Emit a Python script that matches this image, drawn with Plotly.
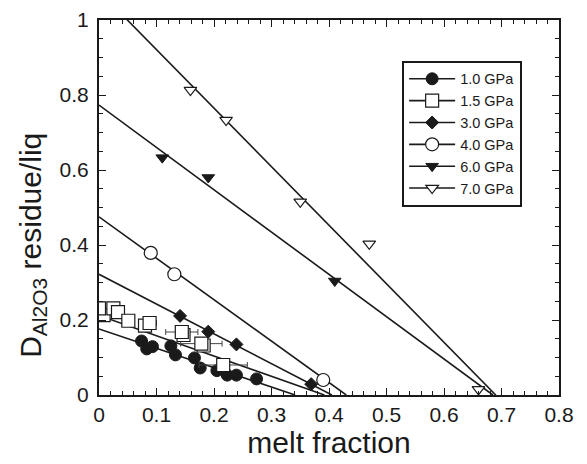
import plotly.graph_objects as go

# ---------------- data ----------------
labels = ["1.0 GPa", "1.5 GPa", "3.0 GPa", "4.0 GPa", "6.0 GPa", "7.0 GPa"]

x_10 = [0.074, 0.083, 0.093, 0.125, 0.133, 0.166, 0.176, 0.205, 0.223, 0.239, 0.274]
y_10 = [0.144, 0.123, 0.129, 0.131, 0.107, 0.099, 0.072, 0.065, 0.053, 0.053, 0.043]

x_15 = [0.008, 0.000, 0.025, 0.033, 0.051, 0.080, 0.088, 0.147, 0.144, 0.182, 0.178, 0.216]
y_15 = [0.213, 0.231, 0.231, 0.221, 0.198, 0.185, 0.192, 0.160, 0.168, 0.132, 0.137, 0.080]
xerr_15 = [0, 0, 0, 0, 0, 0, 0.012, 0, 0.028, 0, 0.036, 0.042]

x_30 = [0.141, 0.190, 0.239, 0.369]
y_30 = [0.211, 0.169, 0.135, 0.029]

x_40 = [0.090, 0.131, 0.390]
y_40 = [0.379, 0.322, 0.040]

x_60 = [0.110, 0.190, 0.410]
y_60 = [0.633, 0.580, 0.304]

x_70 = [0.159, 0.221, 0.350, 0.470, 0.660]
y_70 = [0.813, 0.733, 0.515, 0.403, 0.015]

# fitted lines: value at zero melt fraction and melt fraction where D reaches 0
fit_intercept = [0.176, 0.212, 0.322, 0.475, 0.773, 1.077]
fit_zero_x = [0.341, 0.392, 0.405, 0.430, 0.685, 0.690]

x_ticks = [0, 0.1, 0.2, 0.3, 0.4, 0.5, 0.6, 0.7, 0.8]
x_ticktext = ["0", "0.1", "0.2", "0.3", "0.4", "0.5", "0.6", "0.7", "0.8"]
y_ticks = [0, 0.2, 0.4, 0.6, 0.8, 1.0]
y_ticktext = ["0", "0.2", "0.4", "0.6", "0.8", "1"]

x_title = "melt fraction"
y_title = "D<sub>Al2O3</sub> residue/liq"

# ---------------- styles ----------------
INK = "#1a1a1a"
FONT = "Liberation Sans, Arial, sans-serif"
marker_styles = [
    dict(symbol="circle", size=12, color=INK, line=dict(color=INK, width=1)),
    dict(symbol="square", size=13, color="white", line=dict(color=INK, width=1.2)),
    dict(symbol="diamond", size=10, color=INK, line=dict(color=INK, width=1)),
    dict(symbol="circle", size=13, color="white", line=dict(color=INK, width=1.2)),
    dict(symbol="triangle-down", size=11, color=INK, line=dict(color=INK, width=1)),
    dict(symbol="triangle-down", size=11, color="white", line=dict(color=INK, width=1.2)),
]
series = [(x_10, y_10), (x_15, y_15), (x_30, y_30), (x_40, y_40), (x_60, y_60), (x_70, y_70)]

fig = go.Figure()

# fit lines
for b, x0 in zip(fit_intercept, fit_zero_x):
    fig.add_trace(go.Scatter(x=[0, x0], y=[b, 0], mode="lines",
                             line=dict(color=INK, width=1.6), showlegend=False,
                             hoverinfo="skip"))

# data points
for i, (xs, ys) in enumerate(series):
    kw = {}
    if i == 1:
        kw["error_x"] = dict(type="data", array=xerr_15, color="#444", thickness=1, width=3)
    fig.add_trace(go.Scatter(x=xs, y=ys, mode="markers", marker=marker_styles[i],
                             showlegend=False, **kw))

# legend entries
for i, lab in enumerate(labels):
    fig.add_trace(go.Scatter(x=[None], y=[None], mode="lines+markers", name=lab,
                             marker=marker_styles[i], line=dict(color=INK, width=1.6)))

axis_common = dict(
    showline=True, linewidth=2, linecolor=INK, mirror="allticks",
    ticks="inside", ticklen=7, tickwidth=1, tickcolor=INK,
    showgrid=False, zeroline=False, automargin=False,
    tickfont=dict(family=FONT, size=21, color=INK),
    title_font=dict(family=FONT, size=30, color=INK),
)

fig.update_layout(
    width=579, height=456,
    margin=dict(l=91, r=28, t=12, b=69, autoexpand=False),
    paper_bgcolor="white", plot_bgcolor="white",
    showlegend=True,
    legend=dict(x=0.659, y=0.891, xanchor="left", yanchor="top",
                bordercolor=INK, borderwidth=2, bgcolor="white",
                font=dict(family=FONT, size=14.5, color=INK),
                itemwidth=46, tracegroupgap=0),
    xaxis=dict(range=[0, 0.8], tickvals=x_ticks, ticktext=x_ticktext,
               minor=dict(dtick=0.02, ticks="inside", ticklen=4, tickcolor=INK, showgrid=False),
               title=dict(text=x_title, standoff=2),
               **axis_common),
    yaxis=dict(range=[0, 1], tickvals=y_ticks, ticktext=y_ticktext,
               minor=dict(dtick=0.05, ticks="inside", ticklen=4, tickcolor=INK, showgrid=False),
               ticklabelstandoff=4,
               **axis_common),
    annotations=[dict(text=y_title, xref="paper", yref="paper",
                      x=-0.146, y=0.40, xanchor="center", yanchor="middle",
                      textangle=-90, showarrow=False,
                      font=dict(family=FONT, size=30, color=INK))],
)

fig.write_html("out.html")
